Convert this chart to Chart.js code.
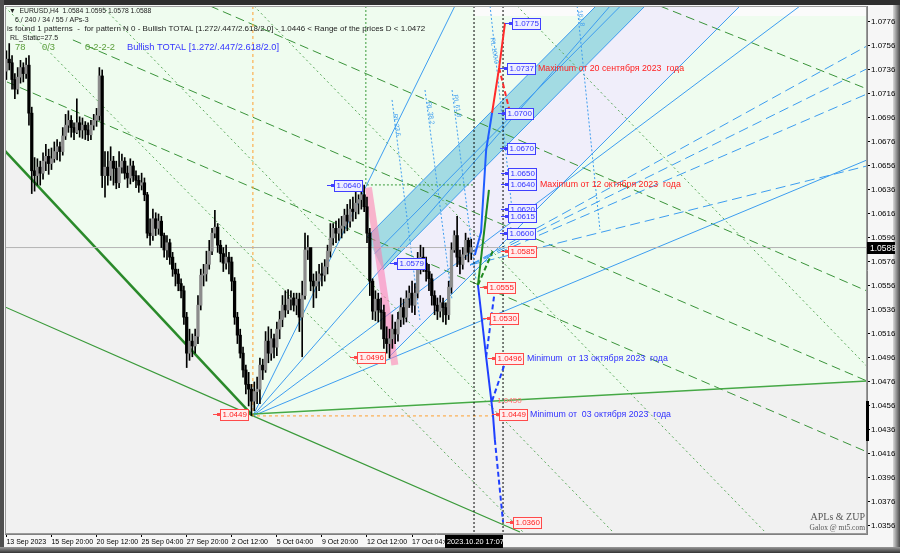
<!DOCTYPE html>
<html>
<head>
<meta charset="utf-8">
<script src="https://cdn.jsdelivr.net/npm/chart.js@4.4.0/dist/chart.umd.min.js"></script>
<style>
html,body{margin:0;padding:0;background:#3c3c3c}
canvas{display:block}
</style>
</head>
<body>
<canvas id="myChart" width="900" height="553"></canvas>
<script>
// EURUSD H4 - velas (open = close anterior)
const firstOpen = 1.0735;
const highs = [
 1.0752,1.0758,1.0748,1.0733,1.0738,1.0744,1.0742,1.0746,1.0748,1.0705,
 1.0663,1.0662,1.0660,1.0667,1.0674,1.0670,1.0671,1.0676,1.0678,1.0676,
 1.0688,1.0699,1.0702,1.0698,1.0692,1.0712,1.0697,1.0696,1.0693,1.0692,
 1.0694,1.0699,1.0704,1.0738,1.0736,1.0668,1.0668,1.0672,1.0664,1.0660,
 1.0668,1.0666,1.0663,1.0656,1.0662,1.0660,1.0652,1.0648,1.0650,1.0646,
 1.0634,1.0612,1.0620,1.0617,1.0616,1.0614,1.0600,1.0598,1.0595,1.0584,
 1.0575,1.0570,1.0562,1.0556,1.0534,1.0520,1.0516,1.0520,1.0548,1.0570,
 1.0574,1.0585,1.0594,1.0604,1.0619,1.0608,1.0594,1.0588,1.0590,1.0584,
 1.0580,1.0563,1.0534,1.0520,1.0505,1.0490,1.0484,1.0474,1.0476,1.0480,
 1.0496,1.0495,1.0518,1.0522,1.0520,1.0516,1.0526,1.0535,1.0548,1.0552,
 1.0553,1.0552,1.0550,1.0550,1.0550,1.0560,1.0600,1.0598,1.0580,1.0566,
 1.0568,1.0574,1.0575,1.0578,1.0590,1.0608,1.0608,1.0610,1.0612,1.0614,
 1.0620,1.0624,1.0628,1.0630,1.0634,1.0632,1.0636,1.0640,1.0630,1.0604,
 1.0562,1.0552,1.0550,1.0546,1.0540,1.0522,1.0520,1.0532,1.0526,1.0534,
 1.0546,1.0545,1.0552,1.0556,1.0560,1.0558,1.0584,1.0590,1.0588,1.0580,
 1.0574,1.0566,1.0552,1.0546,1.0548,1.0546,1.0542,1.0560,1.0592,1.0602,
 1.0614,1.0586,1.0588,1.0600,1.0596,1.0595];
const lows = [
 1.0728,1.0736,1.0720,1.0712,1.0716,1.0725,1.0726,1.0729,1.0690,1.0633,
 1.0635,1.0640,1.0640,1.0645,1.0652,1.0649,1.0653,1.0659,1.0661,1.0660,
 1.0665,1.0678,1.0684,1.0680,1.0678,1.0683,1.0680,1.0679,1.0678,1.0677,
 1.0678,1.0686,1.0689,1.0694,1.0638,1.0630,1.0640,1.0644,1.0640,1.0637,
 1.0638,1.0650,1.0645,1.0638,1.0641,1.0643,1.0638,1.0634,1.0636,1.0627,
 1.0596,1.0590,1.0594,1.0598,1.0599,1.0588,1.0580,1.0578,1.0574,1.0564,
 1.0556,1.0552,1.0546,1.0524,1.0488,1.0494,1.0497,1.0500,1.0508,1.0536,
 1.0556,1.0560,1.0570,1.0582,1.0596,1.0584,1.0576,1.0568,1.0570,1.0566,
 1.0552,1.0524,1.0508,1.0496,1.0480,1.0466,1.0456,1.0448,1.0452,1.0458,
 1.0458,1.0478,1.0484,1.0492,1.0494,1.0496,1.0498,1.0512,1.0522,1.0530,
 1.0533,1.0536,1.0535,1.0532,1.0518,1.0497,1.0545,1.0578,1.0552,1.0538,
 1.0546,1.0552,1.0556,1.0560,1.0566,1.0580,1.0590,1.0592,1.0594,1.0596,
 1.0600,1.0602,1.0605,1.0610,1.0612,1.0616,1.0620,1.0618,1.0592,1.0548,
 1.0528,1.0527,1.0526,1.0520,1.0504,1.0500,1.0496,1.0504,1.0508,1.0510,
 1.0522,1.0524,1.0526,1.0538,1.0534,1.0532,1.0546,1.0566,1.0568,1.0560,
 1.0552,1.0540,1.0532,1.0528,1.0530,1.0526,1.0524,1.0528,1.0550,1.0584,
 1.0572,1.0566,1.0570,1.0578,1.0576,1.0578];
const closes = [
 1.0745,1.0742,1.0728,1.0720,1.0730,1.0738,1.0733,1.0740,1.0700,1.0652,
 1.0648,1.0655,1.0650,1.0660,1.0664,1.0658,1.0662,1.0668,1.0672,1.0668,
 1.0681,1.0690,1.0694,1.0688,1.0684,1.0692,1.0686,1.0690,1.0686,1.0682,
 1.0690,1.0694,1.0698,1.0731,1.0648,1.0655,1.0648,1.0660,1.0654,1.0642,
 1.0655,1.0660,1.0650,1.0646,1.0656,1.0648,1.0644,1.0640,1.0642,1.0632,
 1.0600,1.0598,1.0612,1.0604,1.0610,1.0598,1.0586,1.0592,1.0580,1.0570,
 1.0566,1.0558,1.0552,1.0530,1.0500,1.0510,1.0506,1.0514,1.0540,1.0565,
 1.0566,1.0574,1.0585,1.0600,1.0605,1.0590,1.0583,1.0575,1.0580,1.0576,
 1.0560,1.0530,1.0515,1.0500,1.0486,1.0474,1.0470,1.0460,1.0468,1.0470,
 1.0490,1.0486,1.0510,1.0500,1.0512,1.0505,1.0520,1.0528,1.0540,1.0536,
 1.0545,1.0546,1.0540,1.0545,1.0530,1.0548,1.0586,1.0588,1.0560,1.0556,
 1.0560,1.0566,1.0565,1.0572,1.0585,1.0596,1.0604,1.0600,1.0604,1.0606,
 1.0615,1.0610,1.0620,1.0618,1.0625,1.0628,1.0632,1.0622,1.0600,1.0560,
 1.0535,1.0545,1.0536,1.0534,1.0512,1.0508,1.0512,1.0520,1.0516,1.0528,
 1.0538,1.0530,1.0546,1.0550,1.0540,1.0550,1.0574,1.0580,1.0575,1.0568,
 1.0562,1.0548,1.0540,1.0535,1.0542,1.0538,1.0532,1.0555,1.0586,1.0598,
 1.0580,1.0574,1.0582,1.0594,1.0584,1.0588];

// Ejes
const xTickBars = [0,16,32,48,64,80,96,112,128,144];
const xTickLabels = ['13 Sep 2023','15 Sep 20:00','20 Sep 12:00','25 Sep 04:00','27 Sep 20:00',
  '2 Oct 12:00','5 Oct 04:00','9 Oct 20:00','12 Oct 12:00','17 Oct 04:00'];
const yTicks = [1.0356,1.0376,1.0396,1.0416,1.0436,1.0456,1.0476,1.0496,1.0516,1.0536,1.0556,
  1.0576,1.0596,1.0616,1.0636,1.0656,1.0676,1.0696,1.0716,1.0736,1.0756,1.0776];
const lastPrice = 1.0588;

// Lineas [barra, precio]
const greenThick = [[-0.5,1.06685],[87.5,1.04477]];
const greenLow = [[-0.5,1.05385],[87.5,1.04477],[182.3,1.0351]];
const greenBase = [[87.5,1.04493],[305.5,1.04768]];
const fanLines = [
  [[87.5,1.04477],[159.2,1.07893]],
  [[87.5,1.04477],[214.3,1.07893]],
  [[87.5,1.04477],[281.7,1.07893]],
  [[87.5,1.04477],[305.5,1.0661]]];
const blueDashed = [
  [[164.6,1.05735],[305.5,1.0756]],
  [[164.6,1.05735],[305.5,1.0737]],
  [[164.6,1.05735],[305.5,1.0716]],
  [[164.6,1.05735],[305.5,1.0656]]];
const rlLines = [
  [[136.9,1.0711],[146.8,1.05277]],
  [[148.6,1.07193],[158.2,1.05443]],
  [[158.2,1.07193],[166.7,1.0561]],
  [[171.7,1.07893],[179.5,1.06193]],
  [[202.6,1.07893],[210.7,1.06027]]];
const rlLabels = [[138.5,1.0690,'RL 23.6'],[150.5,1.0700,'RL 38.2'],[160,1.0706,'RL 61.8'],
  [173.2,1.0752,'RL 100.0'],[204,1.0779,'161.8']];
const greenDashed = [
  [[0.2,1.0726],[305.5,1.04177]],
  [[23.6,1.0761],[305.5,1.04768]],
  [[72.3,1.07893],[305.5,1.05518]],
  [[232,1.07893],[305.5,1.07202]]];
const greenDotted = [
  [[33.9,1.07893],[216,1.03493]],
  [[-0.5,1.07885],[184.1,1.03493]],
  [[87.9,1.07893],[270,1.03493]],
  [[181.3,1.07893],[305.5,1.0489]]];
const channelBand = [[128,1.05968],[209.3,1.07893],[226.7,1.07893],[133.7,1.05693]];
const channelLines = [
  [[128,1.05968],[209.3,1.07893]],
  [[130.8,1.0583],[218,1.07893]],
  [[133.7,1.05693],[226.7,1.07893]],
  [[135.8,1.04968],[260.4,1.07893]]];
const grayZone = [[-0.5,1.06685],[87.5,1.04477],[305.5,1.04768],[305.5,1.03493],[-0.5,1.03493]];
const lavenderZone = [[128,1.05968],[135.8,1.04968],[260.4,1.07893],[209.3,1.07893]];
const topStrip = [[166,1.07893],[305.5,1.07893],[305.5,1.0781],[166,1.0781]];
const pinkLeg = [[128.5,1.0638],[137.9,1.04902]];
const orangeV = [[87.5,1.07893],[87.5,1.04477],[176.3,1.04477]];
const greenV = [[127.6,1.07893],[127.6,1.06402],[166,1.06402]];
const cursorLines = [[[166,1.07893],[166,1.03493]],[[176.3,1.07893],[176.3,1.03493]]];
const zupBlueUp = [[166.3,1.05818],[168.5,1.0601],[170.3,1.06693],[172.4,1.07002]];
const zupRed = [[172.4,1.07002],[174.9,1.07377],[177,1.07752]];
const zupRedDash = [[174.9,1.07377],[178.8,1.07002]];
const zupGreen = [[167.4,1.05568],[171.3,1.0636]];
const zupGreenDash = [[167.4,1.05568],[172.7,1.05852]];
const zupBlueDown = [[167.4,1.05568],[170.3,1.04968],[172.7,1.04493],[173.4,1.04277]];
const zupBlueDownDash = [[173.4,1.04277],[176.3,1.03593]];
const zupBlueZig = [
  [[170.3,1.04968],[173.4,1.05527]],
  [[172.4,1.04602],[177,1.04918]]];

// Etiquetas de precio [barra, precio, texto]
const blueTags = [[179.5,1.07752,'1.0775'],[177.7,1.07377,'1.0737'],[177,1.07002,'1.0700'],
  [177.7,1.0671,'1.0670'],[178.1,1.06502,'1.0650'],[178.1,1.0641,'1.0640'],[178.1,1.06202,'1.0620'],
  [178.1,1.06143,'1.0615'],[177.7,1.06002,'1.0600'],[116.3,1.06402,'1.0640'],[138.7,1.05752,'1.0579']];
const redTags = [[178.1,1.05852,'1.0585'],[170.6,1.05552,'1.0555'],[171.7,1.05293,'1.0530'],
  [173.4,1.0496,'1.0496'],[174.9,1.04493,'1.0449'],[179.8,1.03593,'1.0360'],
  [124.5,1.04968,'1.0496'],[75.8,1.04493,'1.0449']];
const notes = [
  [188.7,1.07377,'Maximum от 20 сентября 2023  года','#ff2020'],
  [189.4,1.0641,'Maximum от 12 октября 2023  года','#ff2020'],
  [184.8,1.0496,'Minimum  от 13 октября 2023  года','#3030ff'],
  [185.9,1.04493,'Minimum от  03 октября 2023  года','#3030ff']];

const FONT = '"Liberation Sans", Arial, sans-serif';

function linea(points, color, width, dash, order) {
  return { type:'line', data: points.map(([x,y]) => ({x, y})), borderColor: color,
    borderWidth: width, borderDash: dash || [], pointRadius: 0, fill: false, tension: 0, order: order || 50 };
}
function zona(points, color, order) {
  return { type:'line', data: points.map(([x,y]) => ({x, y})), borderColor:'rgba(0,0,0,0)',
    borderWidth: 0, backgroundColor: color, fill: 'shape', pointRadius: 0, order };
}

const bars = closes.map((_, i) => i);
const opens = closes.map((c, i) => i === 0 ? firstOpen : closes[i-1]);
const wickData = bars.map(i => ({x: i, y: [lows[i], highs[i]]}));
const bodyData = bars.map(i => ({x: i, y: [opens[i], closes[i]]}));
const bodyColors = bars.map(i => closes[i] >= opens[i] ? '#8c8c8c' : '#000000');

const datasets = [
  zona(grayZone, '#f1f1f1', 100),
  zona(lavenderZone, '#f0eefa', 99),
  zona(topStrip, '#fbfbfb', 99),
  zona(channelBand, '#a3dbe3', 98),
  ...greenDotted.map(l => linea(l, '#5aa85a', 1, [2,3], 60)),
  ...greenDashed.map(l => linea(l, '#3a943a', 1, [9,5], 60)),
  ...fanLines.map(l => linea(l, '#3d9df0', 1, [], 58)),
  ...blueDashed.map(l => linea(l, '#3d9df0', 1, [10,5], 58)),
  ...rlLines.map(l => linea(l, '#3d9df0', 1, [2,2], 58)),
  ...channelLines.map(l => linea(l, '#3d9df0', 1, [], 57)),
  linea(greenThick, '#2a8a2a', 2.5, [], 55),
  linea(greenLow, '#3a9a3a', 1.2, [], 55),
  linea(greenBase, '#46a846', 1.5, [], 55),
  linea(orangeV, '#ffa030', 1, [3,3], 54),
  linea(greenV, '#3a9a3a', 1, [2,2], 54),
  ...cursorLines.map(l => linea(l, '#000000', 1, [2,2], 53)),
  linea([[-0.5,lastPrice],[305.5,lastPrice]], '#b4b4b4', 1, [], 52),
  linea(pinkLeg, 'rgba(255,120,175,0.55)', 7, [], 40),
  { type:'bar', data: wickData, backgroundColor:'#000', barThickness:1, grouped:false, order:21 },
  { type:'bar', data: bodyData, backgroundColor: bodyColors, barThickness:2.6, minBarLength:1, grouped:false, order:20 },
  linea(zupBlueUp, '#1f5dff', 2, [], 10),
  linea(zupRed, '#ff2a2a', 2, [], 10),
  linea(zupRedDash, '#ff2a2a', 2, [5,3], 10),
  linea(zupGreen, '#1f8a1f', 2, [], 10),
  linea(zupGreenDash, '#1f8a1f', 2, [5,3], 10),
  linea(zupBlueDown, '#1f3fff', 2, [], 10),
  linea(zupBlueDownDash, '#1f3fff', 2, [5,3], 10),
  ...zupBlueZig.map(l => linea(l, '#1f3fff', 2, [5,3], 10))
];

const frame = {
  id: 'frame',
  beforeDraw(chart) {
    const {ctx, chartArea: a} = chart;
    ctx.save();
    ctx.fillStyle = '#f6f6f6';
    ctx.fillRect(0, 0, 900, 553);
    ctx.fillStyle = '#2e2e2e';
    ctx.fillRect(0, 0, 900, 5);
    ctx.fillStyle = '#505050';
    ctx.fillRect(0, 0, 4, 553);
    let g = ctx.createLinearGradient(893, 0, 900, 0);
    g.addColorStop(0, '#d8d8d8'); g.addColorStop(1, '#4a4a4a');
    ctx.fillStyle = g; ctx.fillRect(893, 5, 7, 548);
    g = ctx.createLinearGradient(0, 547, 0, 553);
    g.addColorStop(0, '#9a9a9a'); g.addColorStop(1, '#333');
    ctx.fillStyle = g; ctx.fillRect(0, 547, 900, 6);
    ctx.fillStyle = '#effcef';
    ctx.fillRect(a.left, a.top, a.right - a.left, a.bottom - a.top);
    ctx.restore();
  }
};

const overlay = {
  id: 'overlay',
  afterDraw(chart) {
    const {ctx, chartArea: a} = chart;
    const xs = chart.scales.x, ys = chart.scales.y;
    ctx.save();
    ctx.strokeStyle = '#9a9a9a'; ctx.lineWidth = 1;
    ctx.strokeRect(a.left + 0.5, a.top + 0.5, a.right - a.left - 1, a.bottom - a.top - 1);

    // etiquetas RL giradas
    ctx.font = '6.5px ' + FONT; ctx.fillStyle = '#3d9df0';
    ctx.textBaseline = 'middle'; ctx.textAlign = 'center';
    rlLabels.forEach(l => {
      ctx.save();
      ctx.translate(xs.getPixelForValue(l[0]), ys.getPixelForValue(l[1]));
      ctx.rotate(Math.PI * 0.45);
      ctx.fillText(l[2], 0, 0);
      ctx.restore();
    });

    function tag(t, border, fill, color) {
      const x = Math.round(xs.getPixelForValue(t[0])), y = Math.round(ys.getPixelForValue(t[1]));
      ctx.font = '8px ' + FONT;
      const w = Math.round(ctx.measureText(t[2]).width) + 4;
      ctx.strokeStyle = border; ctx.lineWidth = 1;
      ctx.beginPath(); ctx.moveTo(x - 7, y + 0.5); ctx.lineTo(x, y + 0.5); ctx.stroke();
      ctx.fillStyle = border; ctx.fillRect(x - 3, y - 1, 3, 3);
      ctx.fillStyle = fill; ctx.fillRect(x, y - 5, w, 11);
      ctx.strokeRect(x + 0.5, y - 5 + 0.5, w, 11);
      ctx.fillStyle = color; ctx.textBaseline = 'middle'; ctx.textAlign = 'left';
      ctx.fillText(t[2], x + 2.5, y + 1);
    }
    blueTags.forEach(t => tag(t, '#4040ff', '#eeeeff', '#3030ff'));
    redTags.forEach(t => tag(t, '#ff4a4a', '#ffeeee', '#ff2020'));
    // 1.0450 sin caja
    ctx.font = '8px ' + FONT; ctx.fillStyle = '#ff7070'; ctx.textBaseline = 'middle';
    ctx.fillText('1.0450', xs.getPixelForValue(174.2), ys.getPixelForValue(1.04602));

    ctx.font = '8.8px ' + FONT;
    notes.forEach(n => {
      ctx.fillStyle = n[3];
      ctx.fillText(n[2], xs.getPixelForValue(n[0]), ys.getPixelForValue(n[1]) + 0.5);
    });

    // textos del indicador
    ctx.textBaseline = 'middle';
    ctx.fillStyle = '#222';
    ctx.font = '6.8px ' + FONT;
    ctx.fillText('\u25BC  EURUSD,H4  1.0584 1.0595 1.0578 1.0588', 9, 11);
    ctx.font = '7px ' + FONT;
    ctx.fillText('6 / 240 / 34 / 55 / APs-3', 15, 20);
    ctx.fillText('RL_Static=27.5', 10, 38);
    ctx.font = '8px ' + FONT;
    ctx.fillText('is found 1 patterns  -  for pattern N 0 - Bullish TOTAL [1.272/.447/2.618/2.0] - 1.0446 < Range of the prices D < 1.0472', 7, 29);
    ctx.font = '9.3px ' + FONT;
    ctx.fillStyle = '#5a9e3a';
    ctx.fillText('78', 15, 47);
    ctx.fillText('0/3', 42, 47);
    ctx.fillText('0-2-2-2', 85, 47);
    ctx.fillStyle = '#3535ff';
    ctx.fillText('Bullish TOTAL [1.272/.447/2.618/2.0]', 127, 47);

    // firma
    ctx.textAlign = 'right';
    ctx.fillStyle = '#555';
    ctx.font = '10px "Liberation Serif", serif';
    ctx.fillText('APLs & ZUP', a.right - 2, 517);
    ctx.font = '7.5px "Liberation Serif", serif';
    ctx.fillText('Galox @ mt5.com', a.right - 2, 528);

    // precio actual en eje
    const py = Math.round(ys.getPixelForValue(lastPrice));
    ctx.fillStyle = '#000';
    ctx.fillRect(a.right, py - 6, 28, 12);
    ctx.fillStyle = '#fff'; ctx.textAlign = 'left';
    ctx.font = '8.5px ' + FONT;
    ctx.fillText(lastPrice.toFixed(4), a.right + 3, py + 0.5);
    // barra negra del eje
    ctx.fillStyle = '#000';
    ctx.fillRect(a.right - 1, Math.round(ys.getPixelForValue(1.0460)), 3, 40);
    // hora del cursor
    ctx.fillStyle = '#000';
    ctx.fillRect(445, a.bottom + 1, 58, 13);
    ctx.fillStyle = '#fff'; ctx.font = '7.3px ' + FONT;
    ctx.fillText('2023.10.20 17:07', 447, a.bottom + 8);
    ctx.restore();
  }
};

new Chart(document.querySelector('#myChart'), {
  type: 'line',
  data: { datasets },
  options: {
    responsive: false,
    animation: false,
    devicePixelRatio: 1,
    layout: { padding: { left: 5, top: 6, right: 4, bottom: 5 } },
    plugins: { legend: { display: false }, tooltip: { enabled: false } },
    scales: {
      x: {
        type: 'linear', min: -0.5, max: 305.5, offset: false, position: 'bottom',
        grid: { drawOnChartArea: false, drawTicks: true, tickLength: 3, color: '#000', offset: false },
        border: { color: '#808080' },
        afterBuildTicks: s => { s.ticks = xTickBars.map(v => ({ value: v })); },
        afterFit: s => { s.height = 14; },
        ticks: { autoSkip: false, maxRotation: 0, minRotation: 0, align: 'start', padding: 1,
          font: { family: FONT, size: 7 }, color: '#000',
          callback: v => xTickLabels[xTickBars.indexOf(v)] }
      },
      y: {
        type: 'linear', position: 'right', min: 1.03493, max: 1.07893, beginAtZero: false,
        grid: { drawOnChartArea: false, tickLength: 3, color: '#000' },
        border: { color: '#808080' },
        afterBuildTicks: s => { s.ticks = yTicks.map(v => ({ value: v })); },
        afterFit: s => { s.width = 29; },
        ticks: { padding: 1, font: { family: FONT, size: 8 }, color: '#000',
          callback: v => v.toFixed(4) }
      }
    }
  },
  plugins: [frame, overlay]
});
</script>
</body>
</html>
